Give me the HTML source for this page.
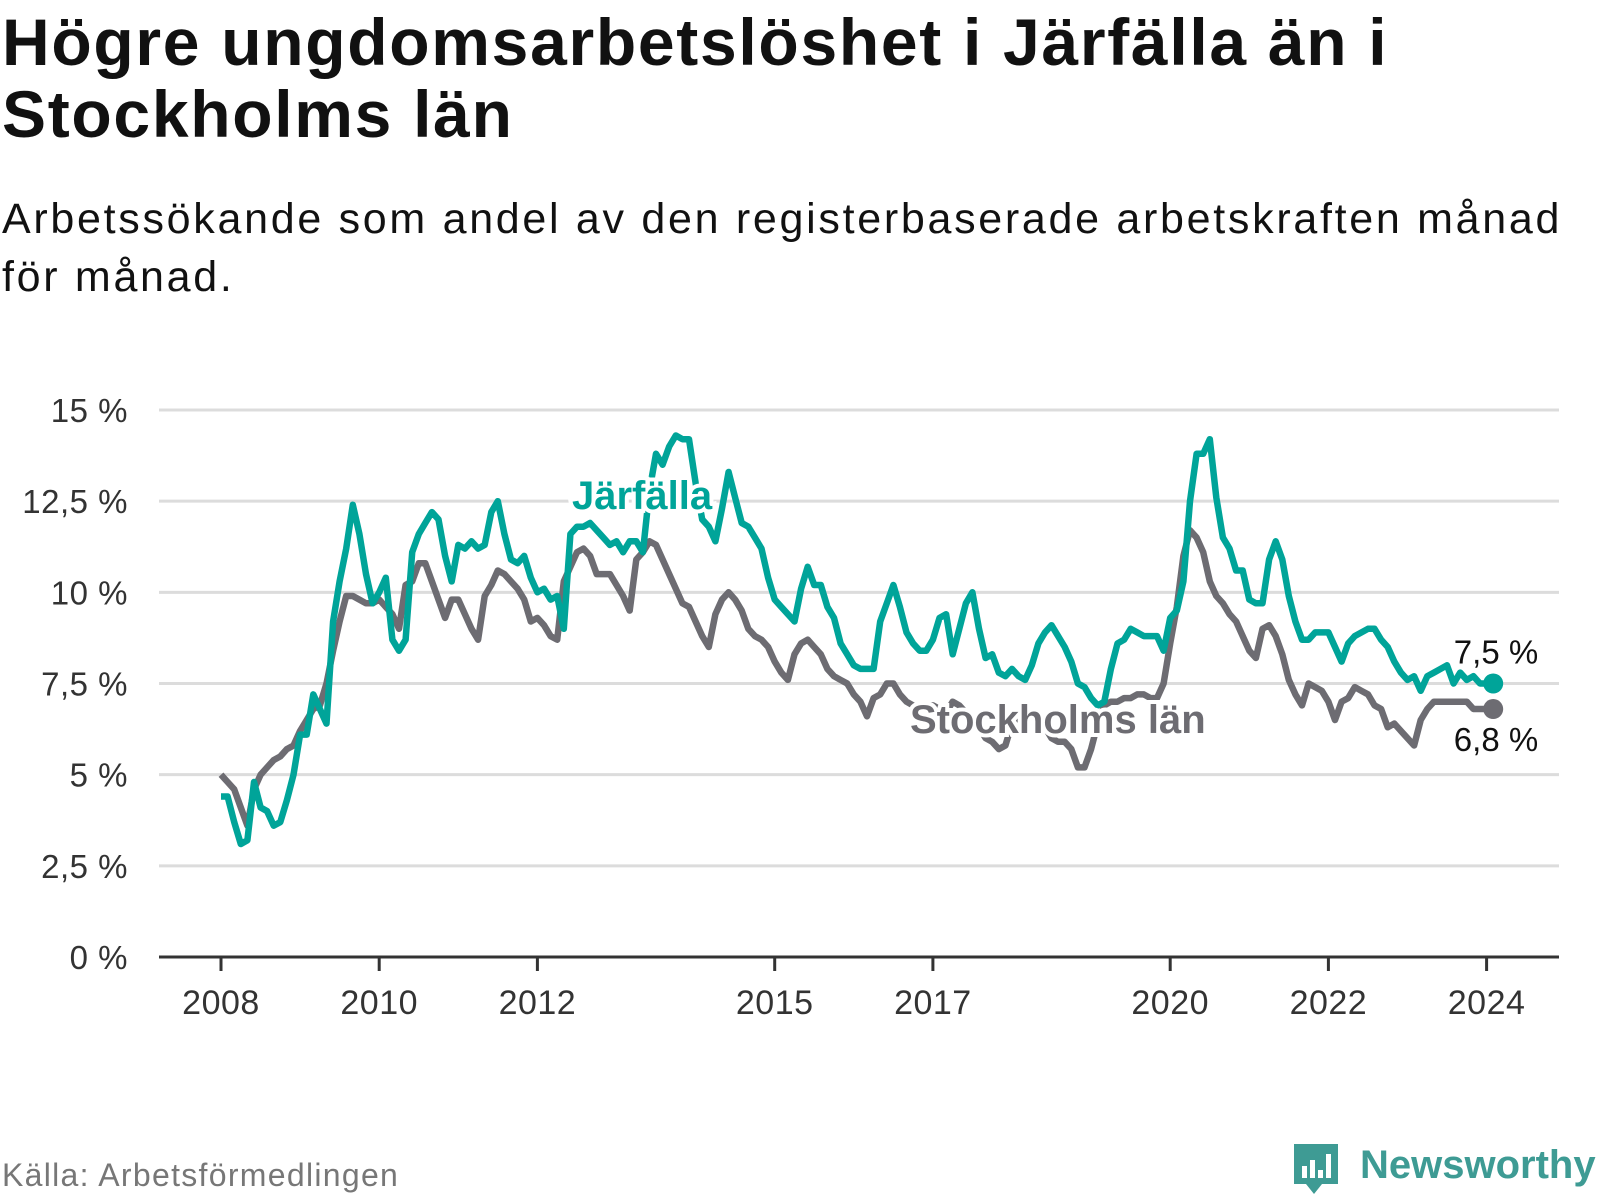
<!DOCTYPE html>
<html><head><meta charset="utf-8">
<style>
html,body{margin:0;padding:0;background:#fff;}
body{width:1600px;height:1200px;position:relative;overflow:hidden;font-family:"Liberation Sans",sans-serif;color:#111;}
#title{position:absolute;left:2px;top:6px;margin:0;font-size:66px;font-weight:bold;line-height:72px;letter-spacing:1.7px;color:#111;}
#subtitle{position:absolute;left:2px;top:190px;margin:0;font-size:43px;line-height:58px;color:#111;letter-spacing:2.7px;}
#source{position:absolute;left:2px;top:1157px;font-size:32px;color:#777;letter-spacing:1.3px;}
#logo{position:absolute;left:1292px;top:1140px;width:308px;height:60px;}
</style></head><body>
<h1 id="title">Högre ungdomsarbetslöshet i Järfälla än i<br>Stockholms län</h1>
<p id="subtitle">Arbetssökande som andel av den registerbaserade arbetskraften månad<br>för månad.</p>
<svg id="chart" width="1600" height="1200" style="position:absolute;left:0;top:0"></svg>
<div id="source">Källa: Arbetsförmedlingen</div>
<svg id="logo" viewBox="0 0 308 60">
<path d="M2 4 h44 v40 h-16 l-8 10 l-8 -10 h-12 z" fill="#3e9b94"/>
<rect x="10" y="26" width="5" height="12" fill="#fff"/><rect x="18" y="20" width="5" height="18" fill="#fff"/><rect x="26" y="30" width="5" height="8" fill="#fff"/><rect x="34" y="14" width="5" height="24" fill="#fff"/>
<text x="68" y="38" font-family="Liberation Sans, sans-serif" font-weight="bold" font-size="40" fill="#3e9b94">Newsworthy</text>
</svg>
<script>
const years=["2008","2010","2012","2015","2017","2020","2022","2024"];
const yTicks=[0,2.5,5,7.5,10,12.5,15];
const yTickLabels=["0 %","2,5 %","5 %","7,5 %","10 %","12,5 %","15 %"];
const jarfalla=[4.4,4.4,3.7,3.1,3.2,4.8,4.1,4.0,3.6,3.7,4.3,5.0,
6.1,6.1,7.2,6.8,6.4,9.2,10.3,11.2,12.4,11.6,10.5,9.7,
10.0,10.4,8.7,8.4,8.7,11.1,11.6,11.9,12.2,12.0,11.0,10.3,
11.3,11.2,11.4,11.2,11.3,12.2,12.5,11.6,10.9,10.8,11.0,10.4,
10.0,10.1,9.8,9.9,9.0,11.6,11.8,11.8,11.9,11.7,11.5,11.3,
11.4,11.1,11.4,11.4,11.1,12.8,13.8,13.5,14.0,14.3,14.2,14.2,
13.0,12.0,11.8,11.4,12.3,13.3,12.6,11.9,11.8,11.5,11.2,10.4,
9.8,9.6,9.4,9.2,10.1,10.7,10.2,10.2,9.6,9.3,8.6,8.3,
8.0,7.9,7.9,7.9,9.2,9.7,10.2,9.6,8.9,8.6,8.4,8.4,
8.7,9.3,9.4,8.3,9.0,9.7,10.0,9.0,8.2,8.3,7.8,7.7,
7.9,7.7,7.6,8.0,8.6,8.9,9.1,8.8,8.5,8.1,7.5,7.4,
7.1,6.9,7.0,7.9,8.6,8.7,9.0,8.9,8.8,8.8,8.8,8.4,
9.3,9.5,10.3,12.5,13.8,13.8,14.2,12.6,11.5,11.2,10.6,10.6,
9.8,9.7,9.7,10.9,11.4,10.9,9.9,9.2,8.7,8.7,8.9,8.9,
8.9,8.5,8.1,8.6,8.8,8.9,9.0,9.0,8.7,8.5,8.1,7.8,
7.6,7.7,7.3,7.7,7.8,7.9,8.0,7.5,7.8,7.6,7.7,7.5,
7.5,7.5];
const stockholm=[5.0,4.8,4.6,4.1,3.6,4.6,5.0,5.2,5.4,5.5,5.7,5.8,
6.2,6.5,6.8,6.9,7.5,8.4,9.2,9.9,9.9,9.8,9.7,9.7,
9.8,9.6,9.4,9.0,10.2,10.3,10.8,10.8,10.3,9.8,9.3,9.8,
9.8,9.4,9.0,8.7,9.9,10.2,10.6,10.5,10.3,10.1,9.8,9.2,
9.3,9.1,8.8,8.7,10.3,10.7,11.1,11.2,11.0,10.5,10.5,10.5,
10.2,9.9,9.5,10.9,11.1,11.4,11.3,10.9,10.5,10.1,9.7,9.6,
9.2,8.8,8.5,9.4,9.8,10.0,9.8,9.5,9.0,8.8,8.7,8.5,
8.1,7.8,7.6,8.3,8.6,8.7,8.5,8.3,7.9,7.7,7.6,7.5,
7.2,7.0,6.6,7.1,7.2,7.5,7.5,7.2,7.0,6.9,6.8,6.9,
6.9,6.8,6.7,7.0,6.9,6.7,6.5,6.3,6.0,5.9,5.7,5.8,
6.4,6.6,6.7,6.6,6.4,6.3,6.0,5.9,5.9,5.7,5.2,5.2,
5.7,6.4,6.9,7.0,7.0,7.1,7.1,7.2,7.2,7.1,7.1,7.5,
8.6,9.6,11.0,11.7,11.5,11.1,10.3,9.9,9.7,9.4,9.2,8.8,
8.4,8.2,9.0,9.1,8.8,8.3,7.6,7.2,6.9,7.5,7.4,7.3,
7.0,6.5,7.0,7.1,7.4,7.3,7.2,6.9,6.8,6.3,6.4,6.2,
6.0,5.8,6.5,6.8,7.0,7.0,7.0,7.0,7.0,7.0,6.8,6.8,
6.8,6.8];
const endLabels=["7,5 %","6,8 %"];

const NS="http://www.w3.org/2000/svg";
const svg=document.getElementById('chart');
const X0=221, PXY=79.1, Y0=957, YMAX=410, L=159, R=1559;
const xYear=y=>X0+(y-2008)*PXY;
const xIdx=i=>X0+i*PXY/12;
const yVal=v=>Y0-(v/15)*(Y0-YMAX);
function mk(tag,attrs){const e=document.createElementNS(NS,tag);for(const k in attrs)e.setAttribute(k,attrs[k]);svg.appendChild(e);return e;}

yTicks.forEach((v,i)=>{
  if(v>0){const g=mk('line',{x1:L,x2:R,y1:yVal(v),y2:yVal(v),stroke:'#dcdcdc','stroke-width':3});
  
  }
  const t=mk('text',{x:128,y:yVal(v)+12,'text-anchor':'end','font-size':33,fill:'#333','font-family':'Liberation Sans, sans-serif','letter-spacing':0.5});
  t.textContent=yTickLabels[i];
  
  
});
const ax=mk('line',{x1:L,x2:R,y1:Y0,y2:Y0,stroke:'#333','stroke-width':3});


years.forEach(y=>{
  const x=xYear(+y);
  const tk=mk('line',{x1:x,x2:x,y1:Y0,y2:Y0+14,stroke:'#333','stroke-width':3});
  
  
  const t=mk('text',{x:x,y:1014,'text-anchor':'middle','font-size':34,fill:'#333','font-family':'Liberation Sans, sans-serif','letter-spacing':0.5});
  t.textContent=y;
  
  
});
function line(data,color,name){
  const d=data.map((v,i)=>(i?'L':'M')+xIdx(i).toFixed(1)+' '+yVal(v).toFixed(1)).join(' ');
  const p=mk('path',{d:d,fill:'none',stroke:color,'stroke-width':6.5,'stroke-linejoin':'round'});
  
  
  const n=data.length-1;
  const c=mk('circle',{cx:xIdx(n),cy:yVal(data[n]),r:10,fill:color});
  
  
}
line(stockholm,'#6d6c72','stockholm-line');
line(jarfalla,'#00a499','jarfalla-line');
function lab(txt,x,y,color,size,bold,name,anchor){
  const t=mk('text',{x:x,y:y,'font-size':size,fill:color,'font-weight':bold?'bold':'normal','font-family':'Liberation Sans, sans-serif',stroke:'#fff','stroke-width':bold?8:5,'paint-order':'stroke','text-anchor':anchor||'start'});
  t.textContent=txt;
  
  
}
lab('Järfälla',572,509,'#00a499',40,true,'jarfalla-label');
lab('Stockholms län',910,733,'#6d6c72',40,true,'stockholm-label');
const nEnd=jarfalla.length-1;
lab(endLabels[0],xIdx(nEnd)+45,yVal(jarfalla[nEnd])-20,'#111',33,false,'jarfalla-end-value','end');
lab(endLabels[1],xIdx(nEnd)+45,yVal(stockholm[nEnd])+42,'#111',33,false,'stockholm-end-value','end');
</script>
</body></html>
